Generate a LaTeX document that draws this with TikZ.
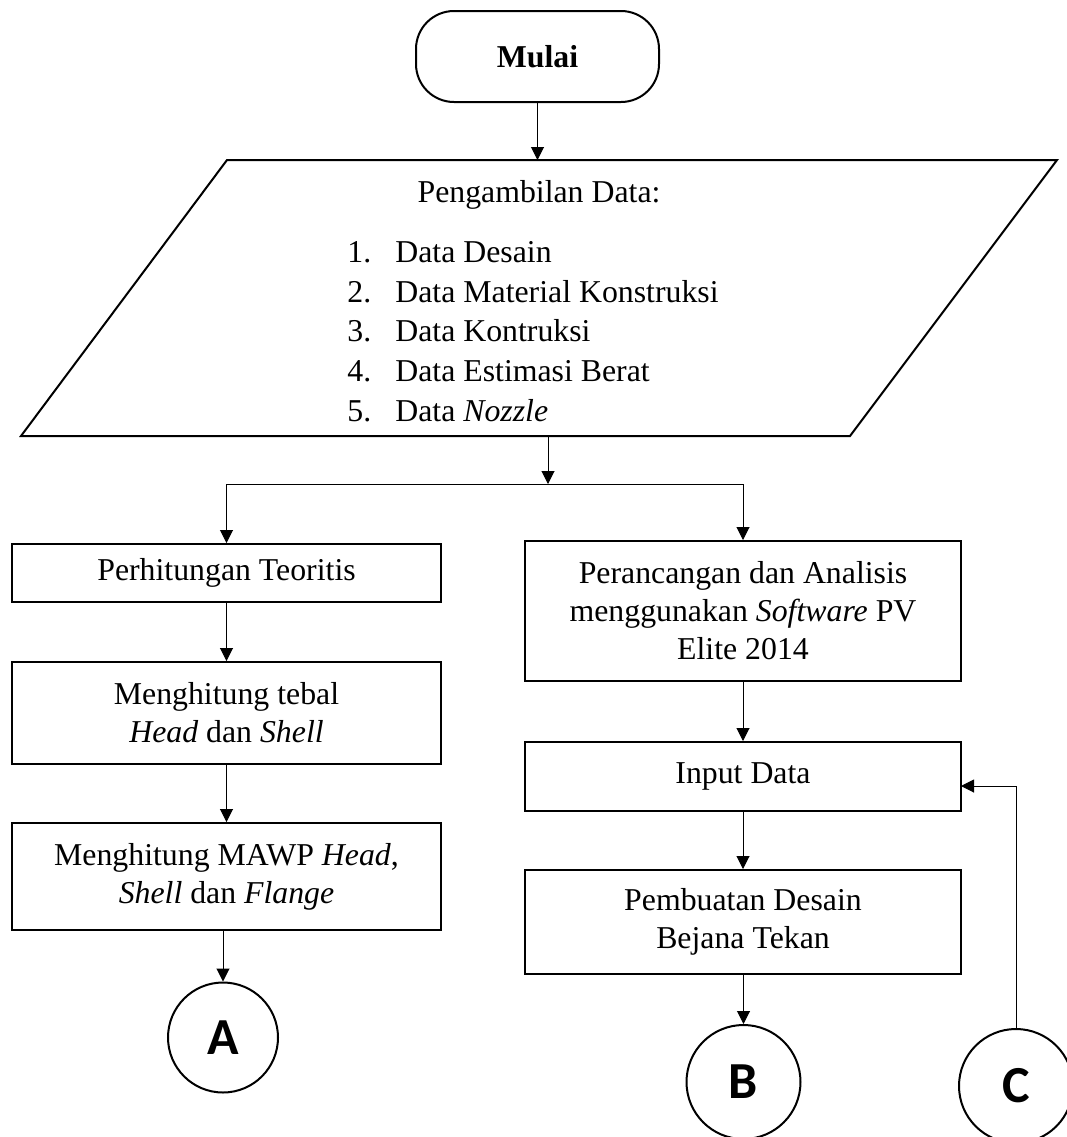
\documentclass[tikz,border=0pt]{standalone}
\usepackage{fontspec}
\setmainfont{Liberation Serif}
\newfontfamily\circfont{Carlito}
\usetikzlibrary{arrows.meta}
\begin{document}
\begin{tikzpicture}[x=0.5pt,y=-0.5pt,
  font=\fontsize{15.9}{19}\selectfont,
  box/.style={draw, line width=1pt, align=center, inner sep=0pt, font=\fontsize{15.9}{19}\selectfont},
  lbox/.style={box, minimum width=214.5pt},
  rbox/.style={box, minimum width=218pt},
  conn/.style={draw, line width=0.5pt},
  arr/.style={conn, -{Triangle[length=6.5pt,width=6.5pt]}},
  conncirc/.style={circle, draw, line width=1pt, inner sep=0pt, font=\circfont\bfseries\fontsize{26}{26}\selectfont},
  listtxt/.style={anchor=base west, inner sep=0pt}]

\useasboundingbox (0,0) rectangle (1067,1137);

% start
\node[box, rounded corners=19pt, minimum width=121.5pt, minimum height=45.5pt,
      font=\bfseries\fontsize{15.9}{19}\selectfont] (mulai) at (537.5,56.5) {Mulai};

% data input parallelogram
\coordinate (p1) at (227,160);
\coordinate (p2) at (1057,160);
\coordinate (p3) at (850,436);
\coordinate (p4) at (21,436);
\draw[line width=1pt, line join=miter] (p1) -- (p2) -- (p3) -- (p4) -- cycle;
\node[anchor=base, inner sep=0pt] (ptitle) at (539,202) {Pengambilan Data:};
\node[listtxt] (n1) at (347,262) {1.};
\node[listtxt] (t1) at (395,262) {Data Desain};
\node[listtxt] (n2) at (347,302) {2.};
\node[listtxt] (t2) at (395,302) {Data Material Konstruksi};
\node[listtxt] (n3) at (347,341) {3.};
\node[listtxt] (t3) at (395,341) {Data Kontruksi};
\node[listtxt] (n4) at (347,381) {4.};
\node[listtxt] (t4) at (395,381) {Data Estimasi Berat};
\node[listtxt] (n5) at (347,421) {5.};
\node[listtxt] (t5) at (395,421) {Data \textit{Nozzle}};

% left column
\node[lbox, minimum height=29pt] (perh) at (226.5,573) {Perhitungan Teoritis};
\node[lbox, minimum height=51pt] (tebal) at (226.5,713) {Menghitung tebal\\\textit{Head} dan \textit{Shell}};
\node[lbox, minimum height=53.5pt] (mawp) at (226.5,876.5) {Menghitung MAWP \textit{Head},\\\textit{Shell} dan \textit{Flange}};
\node[conncirc, minimum size=55pt] (A) at (223,1037.5) {A};

% right column
\node[rbox, minimum height=70pt] (pera) at (743,611) {Perancangan dan Analisis\\menggunakan \textit{Software} PV\\Elite 2014};
\node[rbox, minimum height=34.5pt] (input) at (743,776.5) {Input Data};
\node[rbox, minimum height=52pt] (pemb) at (743,922) {Pembuatan Desain\\Bejana Tekan};
\node[conncirc, minimum size=57pt] (B) at (743.5,1082) {B};
\node[conncirc, minimum size=57pt] (C) at (1016,1086) {C};

% connectors
\draw[arr] (mulai.south) -- (mulai.south |- p1);
\coordinate (pb) at (548,436);
\coordinate (split) at (548,484);
\draw[arr] (pb) -- (split);
\draw[arr] (split) -| (perh.north);
\draw[arr] (split) -| (pera.north);
\draw[arr] (perh) -- (tebal);
\draw[arr] (tebal) -- (mawp);
\draw[arr] (mawp.south -| A.north) -- (A.north);
\draw[arr] (pera) -- (input);
\draw[arr] (input) -- (pemb);
\draw[arr] (pemb.south -| B.north) -- (B.north);
\coordinate (cin) at (961,786);
\draw[arr] (C.north) |- (cin);
\end{tikzpicture}
\end{document}
